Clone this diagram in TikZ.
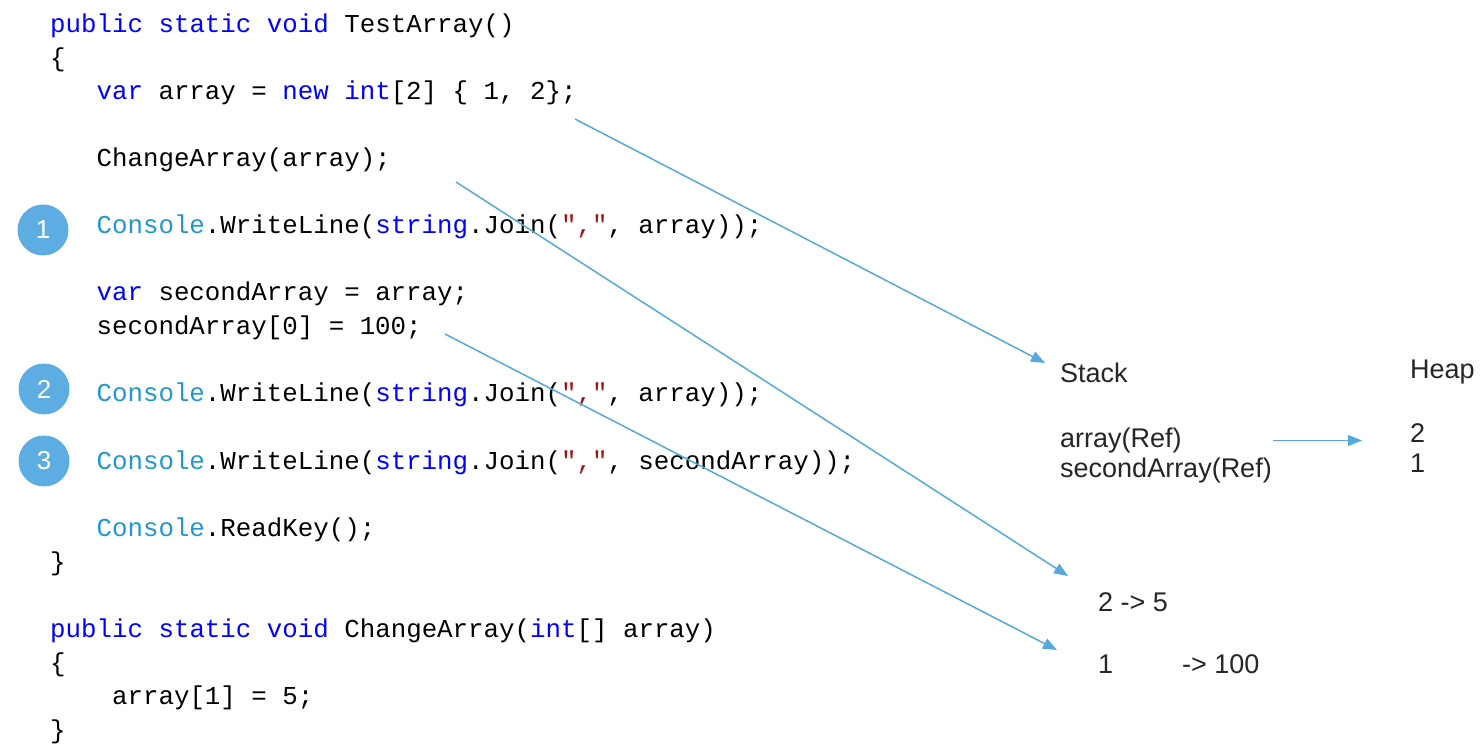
\documentclass[tikz,border=0pt]{standalone}
\usepackage{fontspec}
\setmainfont{Liberation Sans}
\setsansfont{Liberation Sans}
\setmonofont{Liberation Mono}
\usetikzlibrary{arrows.meta}
\definecolor{kwblue}{RGB}{0,0,255}
\definecolor{tyblue}{RGB}{33,150,211}
\definecolor{strred}{RGB}{163,21,21}
\definecolor{arrowblue}{RGB}{86,169,222}
\definecolor{circblue}{RGB}{93,173,226}
\definecolor{txtgray}{RGB}{38,38,38}
\newcommand{\ckw}[1]{\textcolor{kwblue}{#1}}
\newcommand{\cty}[1]{\textcolor{tyblue}{#1}}
\newcommand{\cst}[1]{\textcolor{strred}{#1}}
\begin{document}
\begin{tikzpicture}[x=1pt,y=-1pt,
  code/.style={anchor=base west,inner sep=0pt,font=\ttfamily\fontsize{25.8}{30}\selectfont,text=black},
  lbl/.style={anchor=base west,inner sep=0pt,font=\sffamily\fontsize{27}{30}\selectfont,text=txtgray},
  badge/.style={circle,fill=circblue,minimum size=51pt,inner sep=0pt,text=white,font=\sffamily\fontsize{26}{28}\selectfont},
  conn/.style={draw=arrowblue,line width=1.5pt,-{Triangle[length=14pt,width=11pt]}}]
\useasboundingbox (0,0) rectangle (1484,751);
% code
\node[code] (c1)  at (50,33)  {\ckw{public static void} TestArray()};
\node[code] (c2)  at (50,67)  {\{};
\node[code] (c3)  at (96.4,100) {\ckw{var} array = \ckw{new} \ckw{int}[2] \{ 1, 2\};};
\node[code] (c5)  at (96.4,167) {ChangeArray(array);};
\node[code] (c7)  at (96.4,234) {\cty{Console}.WriteLine(\ckw{string}.Join(\cst{","}, array));};
\node[code] (c9)  at (96.4,301) {\ckw{var} secondArray = array;};
\node[code] (c10) at (96.4,335) {secondArray[0] = 100;};
\node[code] (c12) at (96.4,402) {\cty{Console}.WriteLine(\ckw{string}.Join(\cst{","}, array));};
\node[code] (c14) at (96.4,469) {\cty{Console}.WriteLine(\ckw{string}.Join(\cst{","}, secondArray));};
\node[code] (c16) at (96.4,536) {\cty{Console}.ReadKey();};
\node[code] (c17) at (50,570) {\}};
\node[code] (c19) at (50,637) {\ckw{public static void} ChangeArray(\ckw{int}[] array)};
\node[code] (c20) at (50,671) {\{};
\node[code] (c21) at (111.9,704) {array[1] = 5;};
\node[code] (c22) at (50,738) {\}};
% badges
\node[badge] (b1) at (43,230) {1};
\node[badge] (b2) at (44,389) {2};
\node[badge] (b3) at (44,461) {3};
% memory labels
\node[lbl] (stack) at (1060,383) {Stack};
\node[lbl] (heap)  at (1410,378) {Heap};
\node[lbl] (aref)  at (1060,447) {array(Ref)};
\node[lbl] (sref)  at (1060,477) {secondArray(Ref)};
\node[lbl] (h2)    at (1410,442) {2};
\node[lbl] (h1)    at (1410,472) {1};
\node[lbl] (v25)   at (1098,611) {2 -> 5};
\node[lbl] (v1)    at (1098,673) {1\hspace{69pt}-> 100};
% connector end points
\coordinate (s1) at (575,119);
\coordinate (e1) at (1045,363);
\coordinate (s2) at (456,182);
\coordinate (e2) at (1068,576);
\coordinate (s3) at (445,334);
\coordinate (e3) at (1057,650);
\coordinate (s4) at (1273,440.5);
\coordinate (e4) at (1362,440.5);
\draw[conn] (s1) -- (e1);
\draw[conn] (s2) -- (e2);
\draw[conn] (s3) -- (e3);
\draw[conn] (s4) -- (e4);
\end{tikzpicture}
\end{document}
